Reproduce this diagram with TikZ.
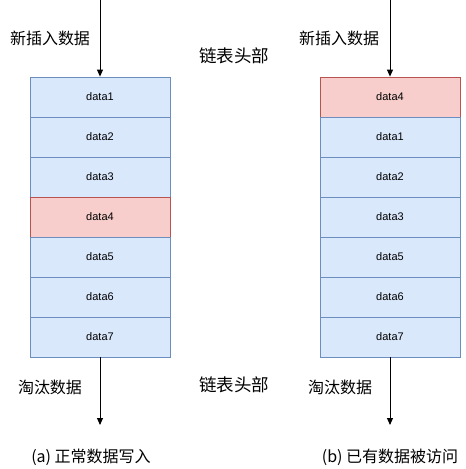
\documentclass[tikz,border=0pt]{standalone}
\usepackage{fontspec}
\setmainfont{Liberation Sans}
\newfontfamily\cjk{Noto Sans CJK SC}
\usetikzlibrary{arrows.meta}
\definecolor{bfill}{HTML}{DAE8FC}
\definecolor{bline}{HTML}{6C8EBF}
\definecolor{rfill}{HTML}{F8CECC}
\definecolor{rline}{HTML}{B85450}
\begin{document}
\begin{tikzpicture}[x=1pt,y=-1pt,
  cell/.style={draw=bline,fill=bfill,line width=0.8pt,minimum width=140pt,minimum height=40pt,inner sep=0pt,font=\fontsize{11}{13}\selectfont},
  hot/.style={cell,draw=rline,fill=rfill},
  lbl/.style={font=\cjk\fontsize{16}{19}\selectfont,inner sep=0pt},
  head/.style={font=\cjk\fontsize{17.5}{21}\selectfont,inner sep=0pt},
  flow/.style={-{Triangle[length=7pt,width=6pt]},line width=0.9pt}]
\useasboundingbox (0,0) rectangle (466,469);
% left stack
\node[cell] (a1) at (100,97) {data1};
\node[cell] (a2) at (100,137) {data2};
\node[cell] (a3) at (100,177) {data3};
\node[hot]  (a4) at (100,217) {data4};
\node[cell] (a5) at (100,257) {data5};
\node[cell] (a6) at (100,297) {data6};
\node[cell] (a7) at (100,337) {data7};
% right stack
\node[hot]  (b4) at (390,97) {data4};
\node[cell] (b1) at (390,137) {data1};
\node[cell] (b2) at (390,177) {data2};
\node[cell] (b3) at (390,217) {data3};
\node[cell] (b5) at (390,257) {data5};
\node[cell] (b6) at (390,297) {data6};
\node[cell] (b7) at (390,337) {data7};
% arrows
\coordinate (at) at (100,0);
\coordinate (ab) at (100,425);
\coordinate (bt) at (390,0);
\coordinate (bb) at (390,425);
\draw[flow] (at) -- (a1.north);
\draw[flow] (a7.south) -- (ab);
\draw[flow] (bt) -- (b4.north);
\draw[flow] (b7.south) -- (bb);
% labels
\node[lbl] (ina) at (50,38) {新插入数据};
\node[lbl] (inb) at (339,38) {新插入数据};
\node[head] (h1) at (234,56) {链表头部};
\node[head] (h2) at (234,385) {链表头部};
\node[lbl] (outa) at (50,387) {淘汰数据};
\node[lbl] (outb) at (340,387) {淘汰数据};
\node[lbl] (capa) at (91,457) {(a) 正常数据写入};
\node[lbl] (capb) at (390,457) {(b) 已有数据被访问};
\end{tikzpicture}
\end{document}
